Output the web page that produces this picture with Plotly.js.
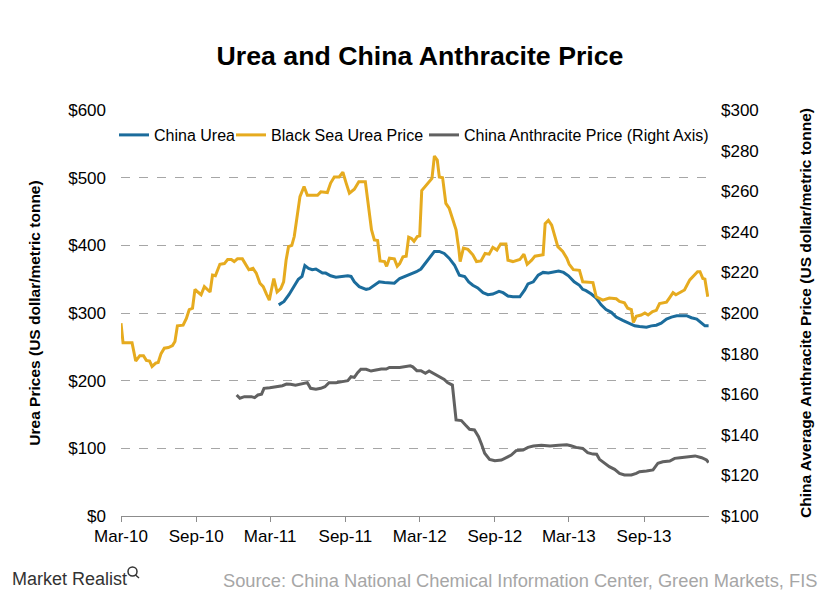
<!DOCTYPE html>
<html>
<head>
<meta charset="utf-8">
<script src="https://cdn.plot.ly/plotly-3.0.1.min.js"></script>
<style>html,body{margin:0;padding:0;background:#fff;}#chart{width:840px;height:601px;}</style>
</head>
<body>
<div id="chart"></div>
<script>
// Black Sea Urea Price (US$/t, left axis)
const blackSeaDates = ['2010-03-01','2010-03-06','2010-03-28','2010-04-06','2010-04-16','2010-04-25','2010-05-02','2010-05-10','2010-05-16','2010-05-25','2010-05-31','2010-06-07','2010-06-15','2010-06-25','2010-07-05','2010-07-11','2010-07-17','2010-07-31','2010-08-08','2010-08-15','2010-08-23','2010-08-29','2010-09-05','2010-09-13','2010-09-21','2010-09-29','2010-10-05','2010-10-11','2010-10-18','2010-10-29','2010-11-09','2010-11-17','2010-11-26','2010-12-03','2010-12-11','2010-12-23','2011-01-01','2011-01-08','2011-01-18','2011-01-26','2011-02-04','2011-02-12','2011-02-20','2011-02-27','2011-03-04','2011-03-10','2011-03-18','2011-03-27','2011-04-03','2011-04-09','2011-04-15','2011-04-23','2011-04-29','2011-05-07','2011-05-13','2011-05-23','2011-05-31','2011-06-12','2011-06-25','2011-07-03','2011-07-11','2011-07-19','2011-07-27','2011-08-05','2011-08-17','2011-08-26','2011-09-03','2011-09-11','2011-09-23','2011-10-04','2011-10-20','2011-10-26','2011-11-04','2011-11-11','2011-11-19','2011-11-25','2011-12-06','2011-12-11','2011-12-18','2011-12-30','2012-01-06','2012-01-12','2012-01-20','2012-01-28','2012-02-03','2012-02-10','2012-02-16','2012-02-24','2012-03-01','2012-03-06','2012-03-15','2012-03-23','2012-03-31','2012-04-06','2012-04-13','2012-04-18','2012-04-26','2012-05-04','2012-05-12','2012-05-20','2012-05-29','2012-06-05','2012-06-08','2012-06-16','2012-06-27','2012-07-09','2012-07-18','2012-07-29','2012-08-08','2012-08-18','2012-08-27','2012-09-06','2012-09-15','2012-09-28','2012-10-03','2012-10-15','2012-11-01','2012-11-11','2012-11-19','2012-11-30','2012-12-08','2012-12-28','2013-01-02','2013-01-10','2013-01-18','2013-01-26','2013-02-02','2013-02-14','2013-02-24','2013-03-02','2013-03-12','2013-03-27','2013-04-04','2013-04-29','2013-05-07','2013-05-23','2013-06-08','2013-06-25','2013-07-03','2013-07-15','2013-07-23','2013-08-01','2013-08-06','2013-08-13','2013-08-25','2013-09-03','2013-09-11','2013-09-22','2013-10-01','2013-10-09','2013-10-26','2013-11-02','2013-11-11','2013-11-18','2013-11-28','2013-12-09','2013-12-22','2013-12-31','2014-01-10','2014-01-16','2014-01-23','2014-01-28','2014-02-04'];
const blackSeaValues = [285,256,256,229,237,237,230,229,221,226,227,240,248,249,252,258,281,282,292,305,307,335,331,327,339,335,331,356,355,372,373,379,379,376,380,380,371,364,366,359,344,339,328,319,334,351,331,336,346,378,398,400,413,447,472,487,474,474,474,479,478,478,492,501,501,508,492,477,483,494,494,467,423,408,407,377,376,369,381,380,369,373,383,384,412,410,406,413,414,481,487,493,499,532,526,501,500,462,455,440,423,393,376,396,394,386,376,377,388,387,397,393,402,402,378,376,379,387,372,378,384,386,432,437,430,413,398,391,381,372,364,363,346,345,324,319,322,321,317,315,307,305,286,295,297,300,297,302,304,314,316,322,330,327,330,334,349,354,361,361,351,350,324];

// China Urea (US$/t, left axis)
const chinaUreaDates = ['2011-03-22','2011-04-04','2011-04-16','2011-04-29','2011-05-09','2011-05-18','2011-05-25','2011-06-03','2011-06-12','2011-06-21','2011-06-29','2011-07-07','2011-07-15','2011-07-27','2011-08-09','2011-08-21','2011-09-07','2011-09-15','2011-09-23','2011-10-05','2011-10-22','2011-10-30','2011-11-11','2011-11-23','2011-12-06','2011-12-18','2011-12-30','2012-01-12','2012-01-24','2012-02-06','2012-02-22','2012-03-04','2012-03-12','2012-03-24','2012-04-06','2012-04-18','2012-04-30','2012-05-12','2012-05-25','2012-06-06','2012-06-19','2012-06-29','2012-07-09','2012-07-21','2012-08-03','2012-08-15','2012-08-27','2012-09-11','2012-09-21','2012-10-03','2012-10-15','2012-11-01','2012-11-13','2012-11-21','2012-12-04','2012-12-16','2012-12-28','2013-01-10','2013-01-22','2013-02-04','2013-02-16','2013-02-28','2013-03-14','2013-03-27','2013-04-04','2013-04-12','2013-04-25','2013-05-07','2013-05-19','2013-05-31','2013-06-13','2013-06-25','2013-07-11','2013-07-27','2013-08-09','2013-08-21','2013-09-07','2013-09-19','2013-10-01','2013-10-13','2013-10-26','2013-11-07','2013-11-20','2013-12-01','2013-12-14','2013-12-26','2014-01-08','2014-01-20','2014-01-28','2014-02-06'];
const chinaUreaValues = [312,317,327,339,350,354,370,366,364,365,362,359,359,355,353,354,355,354,346,339,335,336,341,346,345,345,344,351,354,358,361,365,371,381,391,391,388,381,371,356,354,346,341,337,330,327,328,332,330,325,324,324,334,343,346,356,360,359,360,362,360,355,346,341,335,333,328,322,312,305,301,294,289,284,281,280,279,281,282,285,291,294,296,296,296,293,291,285,281,281];

// China Anthracite Price (US$/t, right axis)
const anthraciteDates = ['2010-12-09','2010-12-17','2010-12-28','2011-01-14','2011-01-22','2011-01-30','2011-02-08','2011-02-14','2011-02-28','2011-03-14','2011-03-31','2011-04-10','2011-04-20','2011-05-02','2011-05-15','2011-05-31','2011-06-08','2011-06-21','2011-07-03','2011-07-13','2011-07-23','2011-08-09','2011-08-25','2011-09-07','2011-09-15','2011-09-23','2011-10-01','2011-10-09','2011-10-22','2011-11-03','2011-11-15','2011-11-28','2011-12-10','2011-12-18','2012-01-12','2012-01-28','2012-02-07','2012-02-13','2012-02-23','2012-03-04','2012-03-15','2012-03-24','2012-04-02','2012-04-14','2012-04-30','2012-05-08','2012-05-20','2012-05-29','2012-06-11','2012-06-21','2012-07-01','2012-07-13','2012-07-23','2012-07-31','2012-08-07','2012-08-19','2012-09-01','2012-09-17','2012-09-30','2012-10-11','2012-10-23','2012-11-09','2012-11-21','2012-12-04','2012-12-24','2013-01-14','2013-02-04','2013-02-24','2013-03-06','2013-03-19','2013-04-04','2013-04-16','2013-04-29','2013-05-08','2013-05-15','2013-05-27','2013-06-08','2013-06-21','2013-07-03','2013-07-15','2013-08-01','2013-08-13','2013-08-21','2013-09-07','2013-09-23','2013-10-05','2013-10-17','2013-11-03','2013-11-15','2013-11-28','2013-12-14','2014-01-04','2014-01-20','2014-02-01','2014-02-06'];
const anthraciteValues = [159.6,158.0,158.8,158.8,158.3,159.6,160.0,162.9,163.2,163.7,164.2,165.0,164.9,164.4,165.0,165.7,162.9,162.4,162.9,163.7,165.7,165.7,166.2,166.7,168.6,168.3,170.6,172.3,172.3,171.4,171.9,172.4,172.4,173.2,173.2,173.5,174.0,173.5,171.6,171.6,170.3,171.4,170.3,169.0,167.3,165.7,164.5,147.3,147.0,144.8,142.7,142.4,139.1,135.0,130.9,127.9,127.2,127.6,128.9,130.0,132.2,132.5,133.8,134.5,134.8,134.5,134.8,135.1,134.6,133.8,133.3,131.2,130.5,130.4,127.9,126.0,124.3,123.0,121.0,120.2,120.2,121.0,121.8,122.2,122.7,126.0,126.7,127.1,128.4,128.7,129.2,129.6,128.7,127.6,126.3];

const seriesNames = ['China Urea', 'Black Sea Urea Price', 'China Anthracite Price (Right Axis)'];
const leftTicks = [0, 100, 200, 300, 400, 500, 600];
const rightTicks = [100, 120, 140, 160, 180, 200, 220, 240, 260, 280, 300];

const FONT = 'Liberation Sans, Arial, sans-serif';

const traces = [
  {x: chinaUreaDates, y: chinaUreaValues, name: seriesNames[0], type: 'scatter', mode: 'lines',
   legend: 'legend', line: {color: '#1b6c9c', width: 3}},
  {x: blackSeaDates, y: blackSeaValues, name: seriesNames[1], type: 'scatter', mode: 'lines',
   legend: 'legend2', line: {color: '#e6ab1f', width: 3}},
  {x: anthraciteDates, y: anthraciteValues, name: seriesNames[2], type: 'scatter', mode: 'lines',
   legend: 'legend3', yaxis: 'y2', line: {color: '#616161', width: 3}}
];

// plot-area pixel helpers (plot area: x 121..709, y 110..516)
const px = v => (v - 121) / 588;
const py = v => (516 - v) / 406;

function legendAt(xpix) {
  return {orientation: 'h', x: px(xpix), xanchor: 'left', y: py(135), yanchor: 'middle',
          bgcolor: 'rgba(0,0,0,0)', borderwidth: 0,
          font: {family: FONT, size: 16, color: '#000'}, itemwidth: 30};
}

const layout = {
  width: 840, height: 601,
  margin: {l: 121, r: 131, t: 110, b: 85},
  paper_bgcolor: '#ffffff', plot_bgcolor: '#ffffff',
  font: {family: FONT, size: 16, color: '#000'},
  showlegend: true,
  title: {text: '<b>Urea and China Anthracite Price</b>', x: 0.5, xanchor: 'center', y: 0.908, yanchor: 'middle',
          font: {family: FONT, size: 26.7, color: '#000'}},
  legend: legendAt(114),
  legend2: legendAt(231),
  legend3: legendAt(424),
  xaxis: {
    type: 'date', range: ['2010-03-01', '2014-02-07'],
    tick0: '2010-03-01', dtick: 'M6', tickformat: '%b-%y',
    showgrid: false, zeroline: false,
    showline: true, linecolor: '#8c8c8c', linewidth: 1,
    ticks: 'outside', ticklen: 5, tickcolor: '#8c8c8c',
    ticklabelstandoff: 0,
    tickfont: {family: FONT, size: 17, color: '#000'}
  },
  yaxis: {
    range: [0, 600], tickvals: leftTicks, ticktext: leftTicks.map(v => '$' + v),
    showgrid: true, gridcolor: '#a6a6a6', gridwidth: 1, griddash: 'dash',
    zeroline: false, showline: false, ticks: '',
    ticklabelstandoff: 14,
    tickfont: {family: FONT, size: 17, color: '#000'},
    title: {text: '<b>Urea Prices (US dollar/metric tonne)</b>', standoff: 23,
            font: {family: FONT, size: 15.5, color: '#000'}}
  },
  yaxis2: {
    range: [100, 300], tickvals: rightTicks, ticktext: rightTicks.map(v => '$' + v),
    overlaying: 'y', side: 'right',
    showgrid: false, zeroline: false, showline: false, ticks: '',
    ticklabelstandoff: 11,
    tickfont: {family: FONT, size: 17, color: '#000'},
    title: {text: '<b>China Average Anthracite Price (US dollar/metric tonne)</b>', standoff: 42,
            font: {family: FONT, size: 15.5, color: '#000'}}
  },
  annotations: [
    {text: 'Source: China National Chemical Information Center, Green Markets, FIS',
     xref: 'paper', yref: 'paper', x: px(819), xanchor: 'right', y: py(580), yanchor: 'middle',
     showarrow: false, font: {family: FONT, size: 18.3, color: '#a6a6a6'}},
    {text: 'Market Realist',
     xref: 'paper', yref: 'paper', x: px(10), xanchor: 'left', y: py(579), yanchor: 'middle',
     showarrow: false, font: {family: 'Liberation Sans Narrow, ' + FONT, size: 18, color: '#333'}}
  ],
  shapes: [
    {type: 'circle', xref: 'paper', yref: 'paper',
     x0: px(128), x1: px(137), y0: py(576), y1: py(567),
     line: {color: '#333', width: 1.5}},
    {type: 'line', xref: 'paper', yref: 'paper',
     x0: px(135.5), x1: px(139), y0: py(575), y1: py(578),
     line: {color: '#333', width: 1.5}}
  ]
};

Plotly.newPlot('chart', traces, layout, {displayModeBar: false, staticPlot: true});
</script>
</body>
</html>
